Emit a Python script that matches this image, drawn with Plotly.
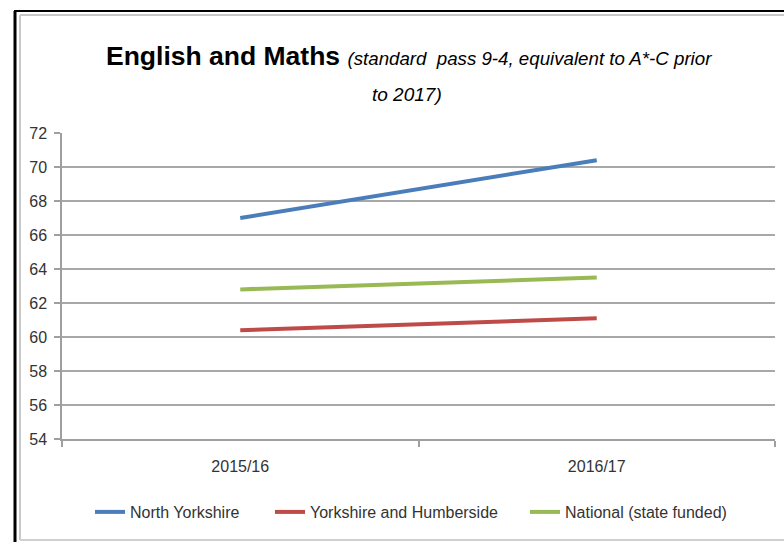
import plotly.graph_objects as go

# Academic years on the category axis
years = ["2015/16", "2016/17"]

# % of pupils achieving the standard pass in English and Maths
north_yorkshire = [67.0, 70.4]
yorks_humber = [60.4, 61.1]
national = [62.8, 63.5]

series_names = ["North Yorkshire", "Yorkshire and Humberside", "National (state funded)"]
series_colors = ["#4A7EBB", "#BE4B48", "#98B954"]

y_ticks = list(range(54, 73, 2))

W, H = 784, 542
L, R, T, B = 62, 9, 133, 103
PW, PH = W - L - R, H - T - B

FONT = "Liberation Sans, Arial, sans-serif"


def px_x(px):
    return (px - L) / PW


def px_y(py):
    return (H - B - py) / PH


fig = go.Figure()
legend_ids = ["legend", "legend2", "legend3"]
legend_left = [90, 270, 525]
for name, vals, col, lg in zip(series_names, [north_yorkshire, yorks_humber, national],
                               series_colors, legend_ids):
    fig.add_trace(go.Scatter(
        x=years, y=vals, name=name, mode="lines",
        line=dict(color=col, width=4), legend=lg,
    ))

legend_style = dict(
    orientation="h", xanchor="left", y=px_y(512), yanchor="middle",
    font=dict(family=FONT, size=16, color="#333333"),
    bgcolor="rgba(0,0,0,0)", borderwidth=0,
)

# Frame around the chart object
frame = [
    dict(x0=px_x(15), x1=px_x(15), y0=px_y(11), y1=px_y(545), line=dict(color="#000000", width=3)),
    dict(x0=px_x(14), x1=px_x(790), y0=px_y(11), y1=px_y(11), line=dict(color="#000000", width=2)),
    dict(x0=px_x(20), x1=px_x(20), y0=px_y(15), y1=px_y(540), line=dict(color="#C8C8C8", width=2)),
    dict(x0=px_x(20), x1=px_x(790), y0=px_y(15), y1=px_y(15), line=dict(color="#C8C8C8", width=2)),
    dict(x0=px_x(20), x1=px_x(790), y0=px_y(540), y1=px_y(540), line=dict(color="#D0D0D0", width=2)),
]
for s in frame:
    fig.add_shape(type="line", xref="paper", yref="paper", layer="above", **s)

# Two-line chart heading
fig.add_annotation(
    text="<b>English and Maths</b> <i><span style='font-size:18.7px'>(standard  pass 9-4, equivalent to A*-C prior</span></i>",
    x=px_x(409), y=px_y(56), xref="paper", yref="paper",
    xanchor="center", yanchor="middle", showarrow=False,
    font=dict(family=FONT, size=26.5, color="#000000"),
)
fig.add_annotation(
    text="<i>to 2017)</i>",
    x=px_x(407), y=px_y(94), xref="paper", yref="paper",
    xanchor="center", yanchor="middle", showarrow=False,
    font=dict(family=FONT, size=19, color="#000000"),
)

layout_legends = {lg: dict(legend_style, x=px_x(lx)) for lg, lx in zip(legend_ids, legend_left)}

fig.update_layout(
    width=W, height=H,
    margin=dict(l=L, r=R, t=T, b=B),
    paper_bgcolor="white", plot_bgcolor="white",
    font=dict(family=FONT, size=16, color="#333333"),
    showlegend=True,
    xaxis=dict(
        type="category", range=[-0.5, 1.5], tickson="boundaries",
        ticks="outside", ticklen=6, tickcolor="#9F9F9F", tickwidth=1.5,
        showline=True, linecolor="#9F9F9F", linewidth=1.5,
        showgrid=False, ticklabelstandoff=12,
    ),
    yaxis=dict(
        range=[54, 72], tickvals=y_ticks, ticktext=[str(v) for v in y_ticks],
        ticks="outside", ticklen=6, tickcolor="#9F9F9F", tickwidth=1.5,
        showline=True, linecolor="#9F9F9F", linewidth=1.5,
        showgrid=True, gridcolor="#A8A8A8", gridwidth=1.5,
        zeroline=False, ticklabelstandoff=4,
    ),
    **layout_legends,
)

fig.write_html("out.html")
